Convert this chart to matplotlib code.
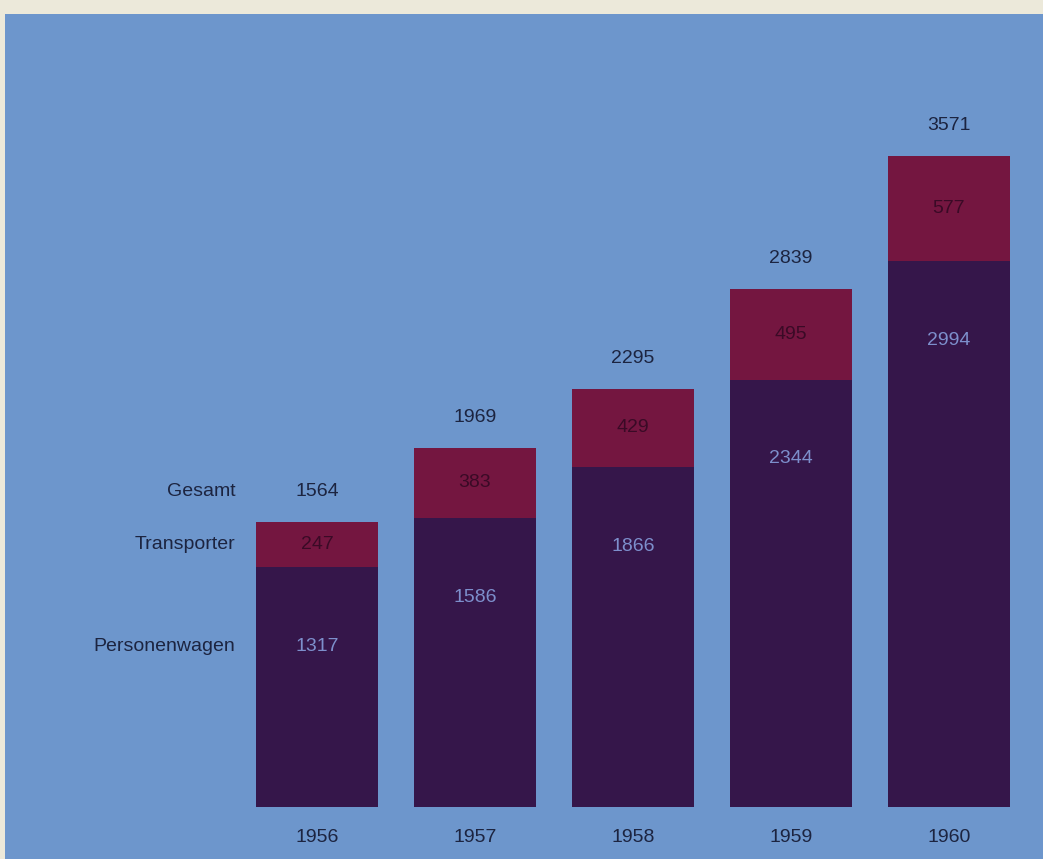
import matplotlib
matplotlib.use("Agg")
import matplotlib.pyplot as plt
import numpy as np

# Produktion je Jahr (Personenwagen + Transporter)
jahre = ["1956", "1957", "1958", "1959", "1960"]
personenwagen = [1317, 1586, 1866, 2344, 2994]
transporter = [247, 383, 429, 495, 577]
gesamt = [1564, 1969, 2295, 2839, 3571]

blau = "#6d96cc"
rot = "#741640"
lila = "#35164a"
schrift = "#1c2440"

plt.rcParams["font.family"] = ["Liberation Sans", "DejaVu Sans"]
fs = 14

fig = plt.figure(figsize=(10.43, 8.59), dpi=100, facecolor="#ece9da")
ax = fig.add_axes([5 / 1043, 0, 1038 / 1043, 845 / 859])
ax.set_facecolor(blau)

x = np.arange(len(jahre))
breite = 0.772
ax.bar(x, personenwagen, width=breite, color=lila, linewidth=0)
ax.bar(x, transporter, width=breite, bottom=personenwagen, color=rot, linewidth=0)

for i in range(len(jahre)):
    ax.annotate(str(gesamt[i]), (x[i], gesamt[i]), xytext=(0, 22),
                textcoords="offset points", ha="center", va="center",
                fontsize=fs, color=schrift)
    ax.text(x[i], personenwagen[i] + transporter[i] / 2, str(transporter[i]),
            ha="center", va="center", fontsize=fs, color="#3a0a26")
    ax.annotate(str(personenwagen[i]), (x[i], personenwagen[i]), xytext=(0, -57),
                textcoords="offset points", ha="center", va="center",
                fontsize=fs, color="#7d8fcc")
    ax.annotate(jahre[i], (x[i], 0), xytext=(0, -22),
                textcoords="offset points", ha="center", va="center",
                fontsize=fs, color=schrift)

# Legende links neben der ersten Säule
lx = x[0] - breite / 2 - 0.13
ax.annotate("Gesamt", (lx, gesamt[0]), xytext=(0, 22), textcoords="offset points",
            ha="right", va="center", fontsize=fs, color=schrift)
ax.text(lx, personenwagen[0] + transporter[0] / 2, "Transporter",
        ha="right", va="center", fontsize=fs, color=schrift)
ax.annotate("Personenwagen", (lx, personenwagen[0]), xytext=(0, -57),
            textcoords="offset points", ha="right", va="center",
            fontsize=fs, color=schrift)

ax.set_xlim(-1.975, 4.595)
ax.set_ylim(-285, 4350)
ax.set_xticks([])
ax.set_yticks([])
for s in ax.spines.values():
    s.set_visible(False)

fig.savefig("out.png", dpi=100, facecolor=fig.get_facecolor())
